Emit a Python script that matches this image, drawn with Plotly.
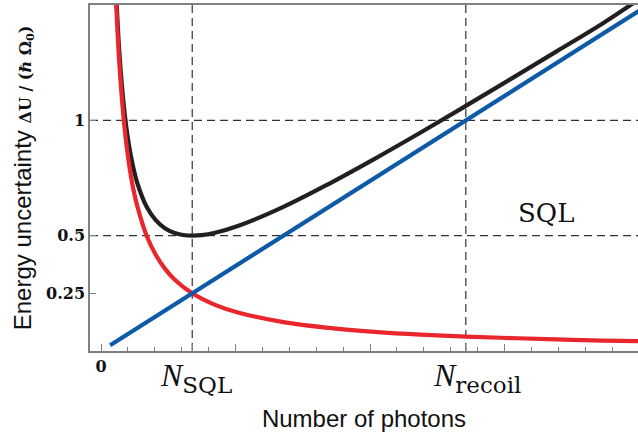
import plotly.graph_objects as go

# ---- data (x in units of N_SQL) ----
N_SQL = 1.0
N_RECOIL = 4.0
SQL_LEVEL = 0.5
UNIT_LEVEL = 1.0

blue_x = [0.10, 1.0, 4.0, 5.90]
blue_y = [0.025, 0.25, 1.0, 1.475]

red_x = [0.167, 0.2, 0.25, 0.3, 0.35, 0.4, 0.5, 0.6, 0.7, 0.8, 1.0, 1.25, 1.5,
         2.0, 2.5, 3.0, 3.5, 4.0, 4.5, 5.0, 5.5, 5.9]
red_y = [1.50, 1.25, 1.00, 0.83, 0.71, 0.625, 0.50, 0.417, 0.357, 0.3125, 0.25, 0.20, 0.167,
         0.125, 0.10, 0.083, 0.071, 0.0625, 0.056, 0.05, 0.045, 0.0424]

black_x = [0.172, 0.2, 0.25, 0.3, 0.35, 0.4, 0.5, 0.6, 0.7, 0.8, 0.9, 1.0, 1.1, 1.25, 1.5,
           2.0, 2.5, 3.0, 3.5, 4.0, 4.5, 5.0, 5.5, 5.9]
black_y = [1.50, 1.30, 1.0625, 0.908, 0.802, 0.725, 0.625, 0.567, 0.532, 0.5125, 0.503, 0.50, 0.502,
           0.5125, 0.542, 0.625, 0.725, 0.833, 0.946, 1.0625, 1.181, 1.30, 1.42, 1.525]

y_tick_vals = [0.25, 0.5, 1.0]
y_tick_text = ["0.25", "0.5", "1"]
x_label_ticks = [0.0]
x_label_text = ["0"]
x_major_ticks = [0.0, 1.475, 2.95, 4.425, N_SQL, N_RECOIL]
x_minor_ticks = [0.295 * k for k in range(1, 21)]

SERIF = "DejaVu Serif"
SANS = "Liberation Sans"
AXIS_COLOR = "#808080"
X_RANGE = [-0.121, 5.888]

fig = go.Figure()
fig.add_trace(go.Scatter(x=black_x, y=black_y, mode="lines", line=dict(color="#231f20", width=4.2, shape="spline")))
fig.add_trace(go.Scatter(x=red_x, y=red_y, mode="lines", line=dict(color="#e8262b", width=4.2, shape="spline")))
fig.add_trace(go.Scatter(x=blue_x, y=blue_y, mode="lines", line=dict(color="#0d5aa8", width=4.2)))

dash = dict(color="#333333", width=1.2, dash="8px,5px")
for lvl in [UNIT_LEVEL, SQL_LEVEL]:
    fig.add_shape(type="line", xref="paper", x0=0, x1=1, yref="y", y0=lvl, y1=lvl, line=dash, layer="below")
for n in [N_SQL, N_RECOIL]:
    fig.add_shape(type="line", xref="x", x0=n, x1=n, yref="paper", y0=0, y1=1, line=dash, layer="below")

sub_style = "font-family:DejaVu Serif;font-size:23px"
fig.add_annotation(x=N_SQL, y=0, xref="x", yref="y", yanchor="top", xanchor="center", xshift=4, yshift=-4,
                   text="<i>N</i><sub><span style='%s'>SQL</span></sub>" % sub_style, showarrow=False,
                   font=dict(family="Liberation Serif", size=32, color="#111"))
fig.add_annotation(x=N_RECOIL, y=0, xref="x", yref="y", yanchor="top", xanchor="center", xshift=11, yshift=-4,
                   text="<i>N</i><sub><span style='%s'>recoil</span></sub>" % sub_style, showarrow=False,
                   font=dict(family="Liberation Serif", size=32, color="#111"))
fig.add_annotation(x=4.88, y=SQL_LEVEL, xref="x", yref="y", yanchor="bottom", xanchor="center", yshift=6,
                   text="SQL", showarrow=False, font=dict(family=SERIF, size=26, color="#111"))

fig.update_layout(
    width=638, height=432,
    margin=dict(l=90, r=0, t=5, b=81),
    paper_bgcolor="white", plot_bgcolor="white",
    showlegend=False,
    xaxis=dict(
        range=X_RANGE, showgrid=False, zeroline=False,
        showline=True, linecolor=AXIS_COLOR, linewidth=1.5, mirror=True,
        ticks="inside", ticklen=7, tickcolor=AXIS_COLOR, tickwidth=1,
        tickmode="array", tickvals=x_label_ticks, ticktext=["<b>%s</b>" % t for t in x_label_text],
        tickfont=dict(family=SERIF, size=16, color="#111"),
        minor=dict(ticks="inside", ticklen=4, tickcolor=AXIS_COLOR, tickwidth=1,
                   tickmode="array", tickvals=x_minor_ticks),
        title=dict(text="Number of photons", font=dict(family=SANS, size=24, color="#111"), standoff=36),
    ),
    xaxis2=dict(
        overlaying="x", side="bottom", matches="x", range=X_RANGE,
        showgrid=False, zeroline=False, showline=False, showticklabels=False,
        ticks="inside", ticklen=7, tickcolor=AXIS_COLOR, tickwidth=1,
        tickmode="array", tickvals=x_major_ticks,
    ),
    yaxis=dict(
        range=[0, 1.5], showgrid=False, zeroline=False,
        showline=True, linecolor=AXIS_COLOR, linewidth=1.5,
        ticks="inside", ticklen=6, tickcolor=AXIS_COLOR, tickwidth=1,
        tickmode="array", tickvals=y_tick_vals, ticktext=["<b>%s</b>" % t for t in y_tick_text],
        tickfont=dict(family=SERIF, size=16, color="#111"),
        title=dict(text="Energy uncertainty <span style='font-family:DejaVu Serif;font-size:16px'><b>ΔU / (ℏ Ω<sub>0</sub>)</b></span>",
                   font=dict(family=SANS, size=24, color="#111"), standoff=8),
    ),
)
# a hidden trace anchors the overlay axis carrying the unlabelled major ticks
fig.add_trace(go.Scatter(x=[], y=[], xaxis="x2", showlegend=False, hoverinfo="skip"))

fig.write_html("out.html")
